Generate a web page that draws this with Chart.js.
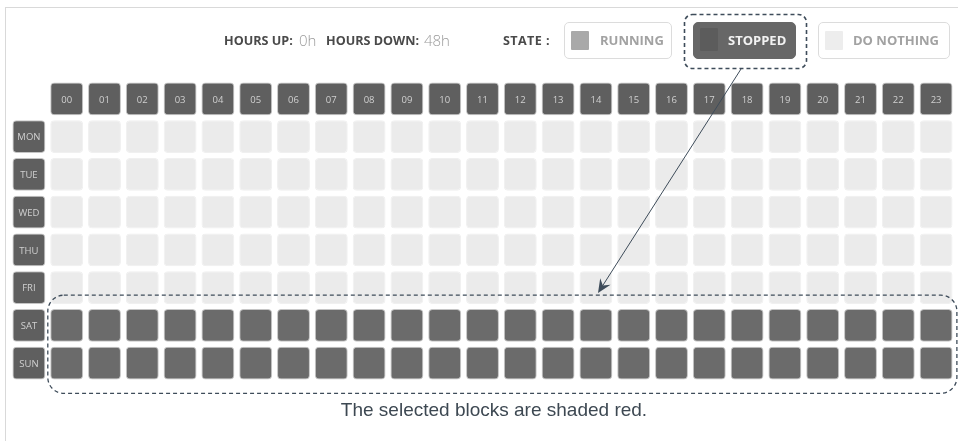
<!DOCTYPE html>
<html>
<head>
<meta charset="utf-8">
<script src="https://cdn.jsdelivr.net/npm/chart.js@4.4.1/dist/chart.umd.min.js"></script>
<style>
  html, body { margin: 0; padding: 0; background: #fff; }
  #wrap { position: relative; width: 958px; height: 441px; overflow: hidden; font-family: "Open Sans", sans-serif; }
  #c { position: absolute; left: 0; top: 0; }
  .frame { position: absolute; left: 5px; top: 7px; right: 0; bottom: 0; border-left: 1px solid #d9d9d9; border-top: 1px solid #d9d9d9; }
  .lbl { position: absolute; top: 33px; font-size: 12.6px; line-height: 16px; font-weight: 700; color: #4a4a4a; white-space: nowrap; }
  .val { position: absolute; top: 32px; font-size: 15px; line-height: 17px; font-weight: 300; color: #9a9a9a; white-space: nowrap; }
  .btn { position: absolute; top: 22px; height: 37px; box-sizing: border-box; border: 1px solid #dcdcdc; border-radius: 5px; background: #fff; }
  .btn .sq { position: absolute; left: 6px; top: 8px; width: 18px; height: 19px; border-radius: 1px; }
  .btn .tx { position: absolute; top: 9px; font-size: 13px; line-height: 17px; font-weight: 700; color: #a2a2a2; white-space: nowrap; }
  .caption { position: absolute; left: 0; width: 988px; top: 399px; text-align: center; font-family: "Liberation Sans", Arial, sans-serif; font-size: 19px; color: #3d4852; }
</style>
</head>
<body>
<div id="wrap">
  <div class="frame"></div>
  <canvas id="c" width="958" height="441"></canvas>

  <span class="lbl" style="left:224px">HOURS UP:</span>
  <span class="val" style="left:299px">0h</span>
  <span class="lbl" style="left:326px">HOURS DOWN:</span>
  <span class="val" style="left:424px">48h</span>

  <span class="lbl" style="left:503px;letter-spacing:0.4px">STATE :</span>
  <div class="btn" style="left:564px;width:108px">
    <div class="sq" style="background:#a9a9a9"></div>
    <span class="tx" style="left:35px">RUNNING</span>
  </div>
  <div class="btn" style="left:693px;width:103px;background:#676767;border-color:#676767">
    <div class="sq" style="background:#5c5c5c;top:5px;height:23px"></div>
    <span class="tx" style="left:34px;color:#f2f2f2">STOPPED</span>
  </div>
  <div class="btn" style="left:818px;width:132px">
    <div class="sq" style="background:#ededed"></div>
    <span class="tx" style="left:34px">DO NOTHING</span>
  </div>

  <div class="caption">The selected blocks are shaded red.</div>
</div>

<script>
const hours = ['00', '01', '02', '03', '04', '05', '06', '07', '08', '09', '10', '11',
  '12', '13', '14', '15', '16', '17', '18', '19', '20', '21', '22', '23'];
const days = ['MON', 'TUE', 'WED', 'THU', 'FRI', 'SAT', 'SUN'];

// 0 = do nothing, 1 = running, 2 = stopped
const mon = [0, 0, 0, 0, 0, 0, 0, 0, 0, 0, 0, 0, 0, 0, 0, 0, 0, 0, 0, 0, 0, 0, 0, 0];
const tue = [0, 0, 0, 0, 0, 0, 0, 0, 0, 0, 0, 0, 0, 0, 0, 0, 0, 0, 0, 0, 0, 0, 0, 0];
const wed = [0, 0, 0, 0, 0, 0, 0, 0, 0, 0, 0, 0, 0, 0, 0, 0, 0, 0, 0, 0, 0, 0, 0, 0];
const thu = [0, 0, 0, 0, 0, 0, 0, 0, 0, 0, 0, 0, 0, 0, 0, 0, 0, 0, 0, 0, 0, 0, 0, 0];
const fri = [0, 0, 0, 0, 0, 0, 0, 0, 0, 0, 0, 0, 0, 0, 0, 0, 0, 0, 0, 0, 0, 0, 0, 0];
const sat = [2, 2, 2, 2, 2, 2, 2, 2, 2, 2, 2, 2, 2, 2, 2, 2, 2, 2, 2, 2, 2, 2, 2, 2];
const sun = [2, 2, 2, 2, 2, 2, 2, 2, 2, 2, 2, 2, 2, 2, 2, 2, 2, 2, 2, 2, 2, 2, 2, 2];

const schedule = [mon, tue, wed, thu, fri, sat, sun];
const stateColors = ['#ebebeb', '#a9a9a9', '#6b6b6b'];
const headColor = '#5f5f5f';
const half = 0.435;

const cells = [];
hours.forEach((h, i) => cells.push({ x: i, y: [-1 - half, -1 + half], label: h }));
days.forEach((d, j) => cells.push({ x: -1, y: [j - half, j + half], label: d }));
schedule.forEach((row, j) => {
  row.forEach((s, i) => cells.push({ x: i, y: [j - half, j + half], state: s }));
});

// hour / day text inside the header boxes
const boxLabels = {
  id: 'boxLabels',
  afterDatasetsDraw(chart) {
    const ctx = chart.ctx;
    const meta = chart.getDatasetMeta(0);
    ctx.save();
    ctx.font = '9.5px "Open Sans"';
    ctx.fillStyle = '#d0d0d0';
    ctx.textAlign = 'center';
    ctx.textBaseline = 'middle';
    meta.data.forEach((el, i) => {
      const raw = cells[i];
      if (raw.label) ctx.fillText(raw.label, el.x, (el.y + el.base) / 2 + 1);
    });
    ctx.restore();
  }
};

// dashed callouts and arrow
const callouts = {
  id: 'callouts',
  afterDraw(chart) {
    const ctx = chart.ctx;
    const x = chart.scales.x, y = chart.scales.y;
    ctx.save();
    ctx.strokeStyle = '#3e4c5a';
    ctx.fillStyle = '#3e4c5a';
    ctx.lineWidth = 1.3;
    ctx.setLineDash([4, 3]);

    const left = x.getPixelForValue(-0.5);
    const right = x.getPixelForValue(23.55);
    const top = y.getPixelForValue(4.2);
    const bottom = y.getPixelForValue(6.8);
    ctx.beginPath();
    ctx.roundRect(left, top, right - left, bottom - top, 16);
    ctx.stroke();

    ctx.lineWidth = 1.6;
    ctx.beginPath();
    ctx.roundRect(684.5, 14.5, 122, 54, 8);
    ctx.stroke();

    ctx.setLineDash([]);
    ctx.lineWidth = 1;
    const x0 = 741, y0 = 69, x1 = 598, y1 = 293;
    const ang = Math.atan2(y1 - y0, x1 - x0);
    ctx.beginPath();
    ctx.moveTo(x0, y0);
    ctx.lineTo(x1 - 8 * Math.cos(ang), y1 - 8 * Math.sin(ang));
    ctx.stroke();
    ctx.beginPath();
    ctx.moveTo(x1, y1);
    ctx.lineTo(x1 - 15 * Math.cos(ang - 0.42), y1 - 15 * Math.sin(ang - 0.42));
    ctx.lineTo(x1 - 9 * Math.cos(ang), y1 - 9 * Math.sin(ang));
    ctx.lineTo(x1 - 15 * Math.cos(ang + 0.42), y1 - 15 * Math.sin(ang + 0.42));
    ctx.closePath();
    ctx.fill();
    ctx.restore();
  }
};

new Chart(document.getElementById('c').getContext('2d'), {
  type: 'bar',
  data: {
    datasets: [
      {
        data: cells,
        backgroundColor: (c) => c.raw && c.raw.label ? headColor : stateColors[c.raw ? c.raw.state : 0],
        borderColor: (c) => c.raw && (c.raw.label || c.raw.state === 2) ? 'rgba(150,150,150,0.55)' : 'rgba(240,240,240,1)',
        borderWidth: 1,
        borderRadius: 4,
        borderSkipped: false,
        barPercentage: 0.87,
        categoryPercentage: 1
      }
    ]
  },
  options: {
    responsive: false,
    animation: false,
    layout: { padding: { left: 10, right: 3, top: 80, bottom: 59 } },
    plugins: {
      legend: { display: false },
      tooltip: { enabled: false }
    },
    scales: {
      x: { type: 'linear', min: -1.5, max: 23.5, offset: false, display: false },
      y: { type: 'linear', min: -1.5, max: 6.5, reverse: true, display: false }
    }
  },
  plugins: [boxLabels, callouts]
});
</script>
</body>
</html>
